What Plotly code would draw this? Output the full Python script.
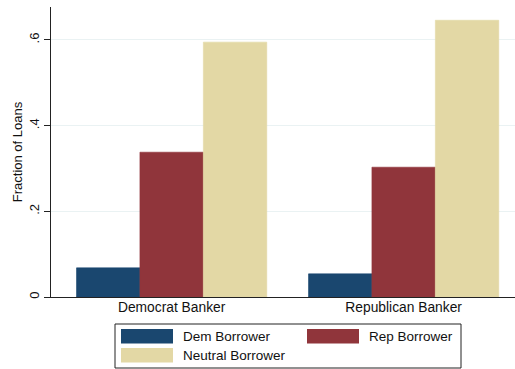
import plotly.graph_objects as go

# Share of loans by banker party and borrower party
categories = ["Democrat Banker", "Republican Banker"]
series_names = ["Dem Borrower", "Rep Borrower", "Neutral Borrower"]
dem_borrower = [0.068, 0.054]
rep_borrower = [0.338, 0.303]
neutral_borrower = [0.595, 0.646]
y_ticks = [0, 0.2, 0.4, 0.6]
y_tick_labels = ["0", ".2", ".4", ".6"]

colors = ["#1a476f", "#90353b", "#e3d8a5"]
values = [dem_borrower, rep_borrower, neutral_borrower]

W, H = 515, 369
# plot area in pixels
L, R, T, B = 51, 515, 7, 297

fig = go.Figure()
for name, vals, col in zip(series_names, values, colors):
    fig.add_trace(go.Bar(
        x=[0, 1], y=vals, name=name, marker_color=col,
        marker_line_width=0.6, marker_line_color=col,
        showlegend=False,
    ))

FONT = "Liberation Sans, Arial, sans-serif"

def px_x(p):
    return (p - L) / (R - L)

def px_y(p):
    return (B - p) / (B - T)

shapes = []
annotations = []
# legend frame
shapes.append(dict(type="rect", xref="paper", yref="paper",
                   x0=px_x(115), x1=px_x(461), y0=px_y(368), y1=px_y(324),
                   line=dict(color="#222222", width=1), fillcolor="white"))
legend_slots = [(121, 329, 181), (307, 329, 367), (121, 348, 181)]
for (sx, sy, tx), name, col in zip(legend_slots, series_names, colors):
    shapes.append(dict(type="rect", xref="paper", yref="paper",
                       x0=px_x(sx), x1=px_x(sx + 52), y0=px_y(sy + 14.5), y1=px_y(sy),
                       line=dict(width=0), fillcolor=col))
    annotations.append(dict(xref="paper", yref="paper", x=px_x(tx), y=px_y(sy + 7.5),
                            text=name, showarrow=False, xanchor="left", yanchor="middle",
                            font=dict(family=FONT, size=13.5, color="#111111")))

fig.update_layout(
    width=W, height=H,
    margin=dict(l=L, r=W - R, t=T, b=H - B),
    paper_bgcolor="white", plot_bgcolor="white",
    barmode="group", bargap=0.18, bargroupgap=0,
    font=dict(family=FONT, size=13, color="#111111"),
    shapes=shapes, annotations=annotations,
    xaxis=dict(
        range=[-0.52, 1.48], tickvals=[0, 1], ticktext=categories,
        showline=True, linecolor="#222222", linewidth=1,
        ticks="", showgrid=False, zeroline=False,
        tickfont=dict(size=13.8), ticklabelstandoff=-3,
    ),
    yaxis=dict(
        range=[0, 0.677], tickvals=y_ticks, ticktext=y_tick_labels,
        tickangle=-90, showline=True, linecolor="#222222", linewidth=1,
        ticks="outside", ticklen=6, tickcolor="#222222",
        showgrid=True, gridcolor="#eaf2f3", gridwidth=1, zeroline=False,
        title=dict(text="Fraction of Loans", font=dict(size=13), standoff=1),
        tickfont=dict(size=13),
    ),
)

fig.write_html("out.html")
